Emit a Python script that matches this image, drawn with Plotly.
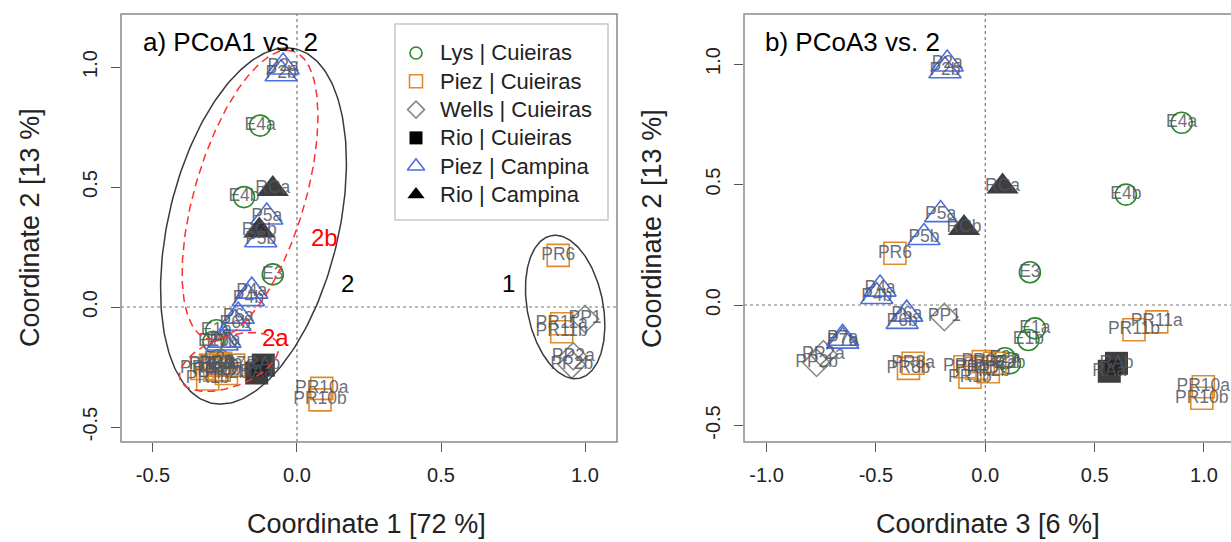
import numpy as np
import plotly.graph_objects as go

# ---------------- data ----------------
group_names = ["Lys | Cuieiras", "Piez | Cuieiras", "Wells | Cuieiras",
               "Rio | Cuieiras", "Piez | Campina", "Rio | Campina"]

names = ["E1a", "E1b", "E2a", "E2b", "E3", "E4a", "E4b",
         "PR1a", "PR1b", "PR2a", "PR2b", "PR7a", "PR7b", "PR8a", "PR8b",
         "PR6", "PR10a", "PR10b", "PR11a", "PR11b",
         "PP1", "PP2a", "PP2b",
         "RAa", "RAb",
         "P2a", "P2b", "P4a", "P4b", "P5a", "P5b", "P6a", "P6b", "P7a", "P7b",
         "RCa", "RCb"]
group = [0, 0, 0, 0, 0, 0, 0,
         1, 1, 1, 1, 1, 1, 1, 1,
         1, 1, 1, 1, 1,
         2, 2, 2,
         3, 3,
         4, 4, 4, 4, 4, 4, 4, 4, 4, 4,
         5, 5]
pc1 = [-0.280, -0.290, -0.270, -0.255, -0.084, -0.128, -0.184,
       -0.330, -0.310, -0.265, -0.245, -0.220, -0.285, -0.300, -0.270,
       0.907, 0.086, 0.080, 0.919, 0.919,
       1.000, 0.959, 0.954,
       -0.140, -0.117,
       -0.048, -0.055, -0.157, -0.169, -0.105, -0.126, -0.204, -0.215, -0.250, -0.260,
       -0.084, -0.131]
pc2 = [-0.097, -0.145, -0.221, -0.242, 0.136, 0.756, 0.458,
       -0.256, -0.300, -0.235, -0.277, -0.242, -0.263, -0.242, -0.263,
       0.215, -0.339, -0.387, -0.070, -0.103,
       -0.050, -0.205, -0.240,
       -0.275, -0.242,
       1.000, 0.972, 0.066, 0.035, 0.375, 0.280, -0.038, -0.068, -0.138, -0.150,
       0.492, 0.319]
pc3 = [0.227, 0.197, 0.090, 0.113, 0.204, 0.898, 0.643,
       -0.093, -0.070, -0.009, 0.014, 0.044, -0.039, -0.330, -0.351,
       -0.413, 0.997, 0.990, 0.784, 0.680,
       -0.187, -0.740, -0.771,
       0.567, 0.600,
       -0.174, -0.184, -0.481, -0.496, -0.204, -0.280, -0.359, -0.380, -0.652, -0.652,
       0.079, -0.097]

x_ticks_a = [-0.5, 0.0, 0.5, 1.0]
x_ticks_b = [-1.0, -0.5, 0.0, 0.5, 1.0]
y_ticks = [-0.5, 0.0, 0.5, 1.0]

# cluster ellipses on panel a: centre (data), semi-axes (px), angle (deg)
ell_cx = [-0.151, -0.163, -0.236, 0.931]
ell_cy = [0.3375, 0.467, -0.229, 0.0]
ell_a = [182, 150, 52, 72.7]
ell_b = [85, 55, 25, 37.9]
ell_ang = [76.5, 73.4, 20, 101]
ell_color = ["#3a3a3a", "#ff3030", "#ff3030", "#3a3a3a"]
ell_dash = ["solid", "8px,5px", "8px,5px", "solid"]

cluster_labels = ["2b", "2a", "2", "1"]
cluster_lx = [0.097, -0.076, 0.174, 0.733]
cluster_ly = [0.29, -0.125, 0.10, 0.10]
cluster_col = ["red", "red", "black", "black"]

# ---------------- style ----------------
W, H = 1231, 542
ML, MR, MT, MB = 0, 0, 14, 100
colors = ["#2a8a2a", "#e08a2e", "#8a8a80", "rgba(35,35,35,0.88)", "#4d6fe0", "rgba(35,35,35,0.88)"]
legend_colors = ["#2a8a2a", "#e08a2e", "#8a8a80", "black", "#4d6fe0", "black"]
symbols = ["circle-open", "square-open", "diamond-open", "square", "triangle-up-open", "triangle-up"]
sizes = [21, 22, 21, 23, 28, 28]
legend_sizes = [12, 13, 13, 13, 15, 15]
FONT = "Liberation Sans, Arial, sans-serif"
label_color = "rgba(80,85,95,0.85)"

xr_a = [-0.611, 1.111]
yr_a = [-0.5625, 1.221]
xr_b = [-1.103, 1.1235]
yr_b = [-0.5685, 1.2075]

dom_a = [121 / W, 617 / W]
dom_b = [744 / W, 1.0]


def py(pix):
    return 1 - (pix - MT) / (H - MT - MB)


# legend box (pixels)
LEG_L, LEG_R, LEG_T, LEG_B = 395, 608, 24, 220
LEG_ROW0, LEG_DY, LEG_KEY_X, LEG_TXT_X = 29, 28.3, 21, 43

fig = go.Figure()

# markers
for gi, gname in enumerate(group_names):
    idx = [i for i, g in enumerate(group) if g == gi]
    for panel in ("a", "b"):
        xs = [pc1[i] if panel == "a" else pc3[i] for i in idx]
        ys = [pc2[i] for i in idx]
        filled = not symbols[gi].endswith("open")
        fig.add_trace(go.Scatter(
            x=xs, y=ys, mode="markers", name=gname,
            xaxis="x" if panel == "a" else "x2",
            yaxis="y" if panel == "a" else "y2",
            showlegend=False,
            marker=dict(symbol=symbols[gi], size=sizes[gi],
                        color=colors[gi],
                        line=dict(color=colors[gi], width=1.6 if not filled else 0)),
            hoverinfo="text", text=[names[i] for i in idx],
        ))

# labels
for xs, xa, ya in ((pc1, "x", "y"), (pc3, "x2", "y2")):
    fig.add_trace(go.Scatter(x=xs, y=pc2, mode="text", text=names, showlegend=False,
                             textfont=dict(size=17.5, color=label_color, family=FONT),
                             xaxis=xa, yaxis=ya, hoverinfo="skip"))

# ellipses
sx = (dom_a[1] - dom_a[0]) * W / (xr_a[1] - xr_a[0])
sy = (H - MT - MB) / (yr_a[1] - yr_a[0])
t = np.linspace(0, 2 * np.pi, 240)
for cx, cy, a, b, ang, col, dsh in zip(ell_cx, ell_cy, ell_a, ell_b, ell_ang, ell_color, ell_dash):
    th = np.deg2rad(ang)
    xp = a * np.cos(t) * np.cos(th) - b * np.sin(t) * np.sin(th)
    yp = a * np.cos(t) * np.sin(th) + b * np.sin(t) * np.cos(th)
    fig.add_trace(go.Scatter(x=cx + xp / sx, y=cy + yp / sy, mode="lines",
                             line=dict(color=col, width=1.5, dash=dsh),
                             showlegend=False, hoverinfo="skip", xaxis="x", yaxis="y"))

# legend keys (own hidden axes spanning the legend box, in pixel units)
for gi, gname in enumerate(group_names):
    filled = not symbols[gi].endswith("open")
    fig.add_trace(go.Scatter(
        x=[LEG_KEY_X], y=[LEG_ROW0 + gi * LEG_DY], mode="markers", showlegend=False,
        xaxis="x3", yaxis="y3", hoverinfo="skip",
        marker=dict(symbol=symbols[gi], size=legend_sizes[gi], color=legend_colors[gi],
                    line=dict(color=legend_colors[gi], width=1.6 if not filled else 0))))

axis_common = dict(showgrid=False, zeroline=False, showline=False, ticks="outside",
                   ticklen=9, tickwidth=1, tickcolor="#555", ticklabelstandoff=6,
                   tickfont=dict(size=20, color="#222", family=FONT))
hidden = dict(visible=False, showgrid=False, zeroline=False, fixedrange=True)

fig.update_layout(
    width=W, height=H, margin=dict(l=ML, r=MR, t=MT, b=MB),
    paper_bgcolor="white", plot_bgcolor="rgba(0,0,0,0)",
    font=dict(family=FONT), showlegend=False,
    xaxis=dict(domain=dom_a, range=xr_a, tickvals=x_ticks_a, anchor="y",
               ticktext=[f"{v:.1f}" for v in x_ticks_a], **axis_common),
    yaxis=dict(domain=[0, 1], range=yr_a, tickvals=y_ticks, anchor="x", tickangle=-90,
               ticktext=[f"{v:.1f}" for v in y_ticks], **axis_common),
    xaxis2=dict(domain=dom_b, range=xr_b, tickvals=x_ticks_b, anchor="y2",
                ticktext=[f"{v:.1f}" for v in x_ticks_b], **axis_common),
    yaxis2=dict(domain=[0, 1], range=yr_b, tickvals=y_ticks, anchor="x2", tickangle=-90,
                ticktext=[f"{v:.1f}" for v in y_ticks], **axis_common),
    xaxis3=dict(domain=[LEG_L / W, LEG_R / W], range=[0, LEG_R - LEG_L], anchor="y3", **hidden),
    yaxis3=dict(domain=[py(LEG_B), py(LEG_T)], range=[LEG_B - LEG_T, 0], anchor="x3", **hidden),
)

shapes = []
# zero lines
for xa, ya in (("x", "y"), ("x2", "y2")):
    shapes.append(dict(type="line", xref=xa, yref=ya + " domain", x0=0, x1=0, y0=0, y1=1,
                       line=dict(color="#777", width=1.2, dash="dot"), layer="below"))
    shapes.append(dict(type="line", xref=xa + " domain", yref=ya, x0=0, x1=1, y0=0, y1=0,
                       line=dict(color="#777", width=1.2, dash="dot"), layer="below"))
# legend box
shapes.append(dict(type="rect", xref="paper", yref="paper", x0=LEG_L / W, x1=LEG_R / W,
                   y0=py(LEG_B), y1=py(LEG_T), fillcolor="white",
                   line=dict(color="#c8c8c8", width=1.5), layer="below"))
# frames
shapes.append(dict(type="rect", xref="paper", yref="paper", x0=dom_a[0], x1=dom_a[1], y0=0, y1=1,
                   line=dict(color="#8a8a8a", width=1.5)))
shapes.append(dict(type="rect", xref="paper", yref="paper", x0=dom_b[0], x1=1240 / W, y0=0, y1=1,
                   line=dict(color="#8a8a8a", width=1.5)))
fig.update_layout(shapes=shapes)

ann = []
for lab, lx, ly, c in zip(cluster_labels, cluster_lx, cluster_ly, cluster_col):
    ann.append(dict(x=lx, y=ly, xref="x", yref="y", text=lab, showarrow=False,
                    font=dict(size=24, color=c, family=FONT)))
for gi, gname in enumerate(group_names):
    ann.append(dict(x=LEG_TXT_X, y=LEG_ROW0 + gi * LEG_DY, xref="x3", yref="y3", text=gname,
                    showarrow=False, xanchor="left", yanchor="middle",
                    font=dict(size=22, color="#222", family=FONT)))

ann.append(dict(x=141 / W, y=py(42), xref="paper", yref="paper", text="a) PCoA1 vs. 2",
                showarrow=False, xanchor="left", yanchor="middle",
                font=dict(size=26, color="black", family=FONT)))
ann.append(dict(x=763 / W, y=py(42), xref="paper", yref="paper", text="b) PCoA3 vs. 2",
                showarrow=False, xanchor="left", yanchor="middle",
                font=dict(size=26, color="black", family=FONT)))
ann.append(dict(x=366 / W, y=py(524), xref="paper", yref="paper", text="Coordinate 1 [72 %]",
                showarrow=False, xanchor="center", yanchor="middle",
                font=dict(size=27, color="#222", family=FONT)))
ann.append(dict(x=988 / W, y=py(524), xref="paper", yref="paper", text="Coordinate 3 [6 %]",
                showarrow=False, xanchor="center", yanchor="middle",
                font=dict(size=27, color="#222", family=FONT)))
ann.append(dict(x=30 / W, y=py(228), xref="paper", yref="paper", text="Coordinate 2 [13 %]",
                showarrow=False, textangle=-90, xanchor="center", yanchor="middle",
                font=dict(size=27, color="#222", family=FONT)))
ann.append(dict(x=652 / W, y=py(228), xref="paper", yref="paper", text="Coordinate 2 [13 %]",
                showarrow=False, textangle=-90, xanchor="center", yanchor="middle",
                font=dict(size=27, color="#222", family=FONT)))
fig.update_layout(annotations=ann)

fig.write_html("out.html")
